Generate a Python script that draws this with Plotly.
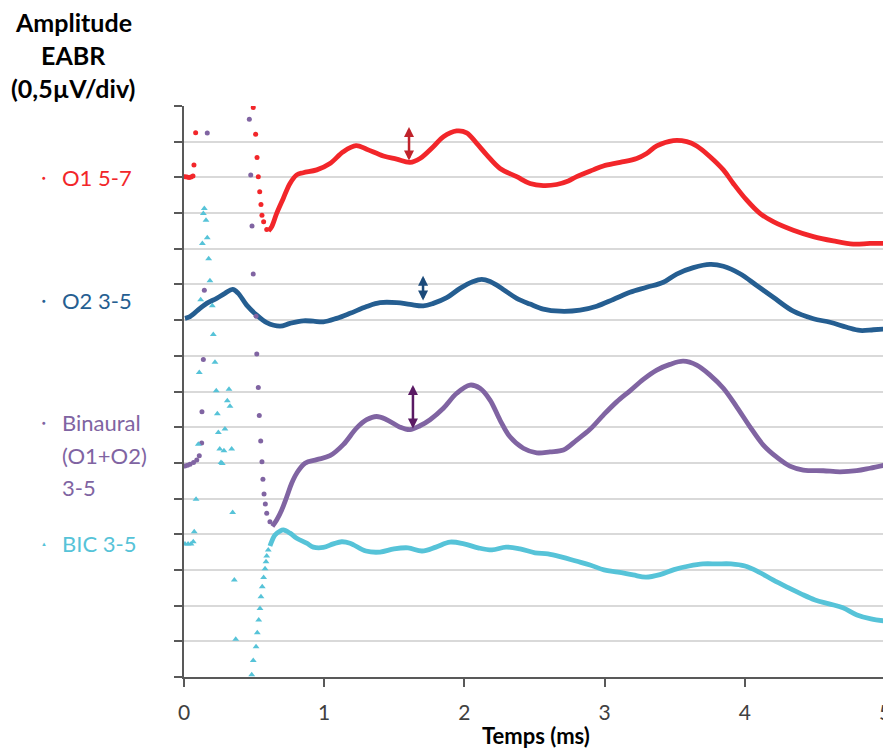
import plotly.graph_objects as go

# time in ms, amplitude in divisions (1 div = 0.5 uV)
o1_t = [0.603, 0.626, 0.661, 0.708, 0.756, 0.804, 0.851, 0.947, 1.041, 1.136, 1.227, 1.303,
        1.422, 1.517, 1.612, 1.683, 1.778, 1.850, 1.945, 2.016, 2.088, 2.159, 2.254, 2.373,
        2.468, 2.563, 2.658, 2.741, 2.801, 2.919, 2.991, 3.110, 3.229, 3.300, 3.372, 3.490,
        3.586, 3.657, 3.752, 3.847, 3.918, 4.014, 4.108, 4.203, 4.346, 4.489, 4.631, 4.774,
        4.893, 5.000]
o1_amp = [12.50, 12.62, 12.99, 13.41, 13.83, 14.07, 14.13, 14.21, 14.39, 14.72, 14.89, 14.79,
          14.60, 14.51, 14.42, 14.53, 14.86, 15.14, 15.30, 15.25, 14.95, 14.63, 14.25, 14.02,
          13.83, 13.77, 13.80, 13.90, 14.02, 14.21, 14.32, 14.42, 14.53, 14.67, 14.88, 15.03,
          15.00, 14.88, 14.58, 14.21, 13.83, 13.36, 12.99, 12.76, 12.52, 12.34, 12.22, 12.13,
          12.15, 12.15]
o1_art_t = [0.007, 0.021, 0.036, 0.050, 0.064, 0.071, 0.083,
            0.494, 0.511, 0.521, 0.530, 0.540, 0.549, 0.556, 0.568, 0.590]
o1_art_amp = [14.02, 14.01, 14.00, 14.01, 14.04, 14.35, 15.25,
              15.96, 15.21, 14.56, 14.02, 13.60, 13.24, 12.94, 12.76, 12.54]

o2_t = [0.007, 0.043, 0.114, 0.162, 0.233, 0.292, 0.347, 0.387, 0.447, 0.519, 0.590, 0.685,
        0.756, 0.851, 0.922, 0.994, 1.089, 1.184, 1.303, 1.398, 1.517, 1.612, 1.707, 1.778,
        1.874, 1.969, 2.063, 2.123, 2.183, 2.277, 2.373, 2.468, 2.563, 2.682, 2.825, 2.944,
        3.062, 3.181, 3.300, 3.419, 3.514, 3.633, 3.752, 3.847, 3.966, 4.085, 4.203, 4.346,
        4.489, 4.608, 4.727, 4.822, 4.917, 5.000]
o2_amp = [10.05, 10.10, 10.33, 10.47, 10.61, 10.75, 10.86, 10.75, 10.42, 10.14, 9.93, 9.83,
          9.91, 9.98, 9.97, 9.95, 10.05, 10.19, 10.38, 10.49, 10.49, 10.44, 10.40, 10.47,
          10.63, 10.89, 11.08, 11.14, 11.08, 10.86, 10.61, 10.45, 10.31, 10.25, 10.28, 10.39,
          10.58, 10.78, 10.92, 11.06, 11.29, 11.47, 11.56, 11.51, 11.30, 10.97, 10.64, 10.25,
          10.04, 9.94, 9.80, 9.71, 9.73, 9.75]

bin_t = [0.630, 0.661, 0.697, 0.733, 0.768, 0.804, 0.863, 0.947, 1.041, 1.136, 1.232, 1.303,
         1.374, 1.446, 1.541, 1.612, 1.683, 1.755, 1.850, 1.945, 2.040, 2.111, 2.183, 2.254,
         2.325, 2.420, 2.516, 2.611, 2.706, 2.801, 2.896, 2.991, 3.086, 3.181, 3.276, 3.372,
         3.466, 3.561, 3.657, 3.752, 3.847, 3.942, 4.037, 4.132, 4.228, 4.322, 4.417, 4.560,
         4.679, 4.798, 4.893, 5.000]
bin_amp = [4.22, 4.40, 4.68, 5.05, 5.43, 5.71, 5.99, 6.09, 6.20, 6.51, 6.98, 7.21,
           7.30, 7.21, 7.00, 6.93, 7.04, 7.21, 7.53, 7.95, 8.18, 8.09, 7.76, 7.20,
           6.73, 6.41, 6.28, 6.31, 6.36, 6.64, 6.94, 7.34, 7.71, 8.02, 8.34, 8.60,
           8.76, 8.85, 8.74, 8.46, 8.09, 7.57, 7.01, 6.50, 6.16, 5.91, 5.80, 5.78,
           5.75, 5.78, 5.85, 5.94]
bin_art_t = [0.007, 0.025, 0.043, 0.068, 0.091, 0.109, 0.126, 0.128, 0.138, 0.145, 0.166,
             0.466, 0.476, 0.485, 0.494, 0.514, 0.519, 0.530, 0.537, 0.547, 0.556, 0.563,
             0.571, 0.580, 0.590, 0.613]
bin_art_amp = [5.91, 5.93, 5.96, 6.01, 6.08, 6.20, 6.56, 7.43, 8.90, 10.84, 15.24,
               15.63, 14.07, 12.64, 11.29, 10.11, 9.05, 8.11, 7.33, 6.61, 6.03, 5.54,
               5.13, 4.85, 4.59, 4.35]

bic_t = [0.613, 0.630, 0.649, 0.685, 0.708, 0.756, 0.804, 0.875, 0.922, 0.994, 1.065, 1.125,
         1.184, 1.298, 1.398, 1.498, 1.598, 1.698, 1.797, 1.897, 1.997, 2.097, 2.197, 2.297,
         2.397, 2.504, 2.596, 2.696, 2.796, 2.896, 2.996, 3.096, 3.203, 3.295, 3.395, 3.495,
         3.602, 3.702, 3.802, 3.902, 4.001, 4.101, 4.201, 4.301, 4.401, 4.501, 4.601, 4.700,
         4.800, 4.900, 5.000]
bic_amp = [3.67, 3.84, 3.98, 4.09, 4.12, 4.03, 3.89, 3.75, 3.64, 3.63, 3.73, 3.79,
           3.75, 3.53, 3.50, 3.59, 3.62, 3.53, 3.64, 3.78, 3.73, 3.62, 3.56, 3.64,
           3.59, 3.48, 3.45, 3.36, 3.25, 3.14, 3.00, 2.94, 2.86, 2.80, 2.87, 3.01,
           3.11, 3.17, 3.17, 3.17, 3.11, 2.94, 2.72, 2.52, 2.33, 2.16, 2.05, 1.94,
           1.74, 1.63, 1.57]
bic_art_t = [0.007, 0.029, 0.050, 0.066, 0.073, 0.086, 0.102, 0.109, 0.119, 0.131, 0.138,
             0.145, 0.157, 0.166, 0.176, 0.185, 0.202, 0.209, 0.221, 0.230, 0.238, 0.245,
             0.255, 0.264, 0.273, 0.285, 0.292, 0.309, 0.321, 0.328, 0.340, 0.347, 0.359,
             0.369, 0.483, 0.494, 0.514, 0.523, 0.533, 0.542, 0.549, 0.558, 0.568, 0.578,
             0.585, 0.590, 0.601]
bic_art_amp = [3.73, 3.73, 3.73, 3.79, 4.07, 4.98, 6.52, 8.53, 10.57, 12.15, 12.99,
               13.13, 12.80, 12.31, 11.72, 11.10, 10.40, 9.60, 8.82, 8.02, 7.38, 6.85,
               6.39, 6.01, 5.98, 6.34, 6.95, 7.74, 8.06, 7.59, 6.39, 4.61, 2.72,
               1.06, 0.06, 0.46, 0.85, 1.24, 1.60, 1.92, 2.25, 2.53, 2.79, 3.03,
               3.23, 3.39, 3.56]

# latency markers (x, top, bottom)
arrows = [(1.605, 15.41, 14.43, '#c0232b'),
          (1.705, 11.24, 10.51, '#1b4a7a'),
          (1.633, 8.18, 6.92, '#5a1a64')]

RED = '#f2262a'
BLUE = '#255e91'
PURPLE = '#8064a2'
CYAN = '#56c3d8'
FONT = 'Lato'

fig = go.Figure()

series = [
    (o1_t, o1_amp, o1_art_t, o1_art_amp, RED, 'circle'),
    (o2_t, o2_amp, [], [], BLUE, 'circle'),
    (bin_t, bin_amp, bin_art_t, bin_art_amp, PURPLE, 'circle'),
    (bic_t, bic_amp, bic_art_t, bic_art_amp, CYAN, 'triangle-up'),
]
for t, a, at, aa, col, sym in series:
    fig.add_trace(go.Scatter(x=t, y=a, mode='lines', line=dict(color=col, width=4.8, shape='spline'),
                             showlegend=False, hoverinfo='skip'))
    if at:
        fig.add_trace(go.Scatter(x=at, y=aa, mode='markers',
                                 marker=dict(color=col, size=5 if sym == 'circle' else 6, symbol=sym),
                                 showlegend=False, hoverinfo='skip', cliponaxis=True))

for x, ytop, ybot, col in arrows:
    fig.add_annotation(x=x, y=ytop, ax=x, ay=ybot, xref='x', yref='y', axref='x', ayref='y',
                       text='', showarrow=True, arrowhead=2, startarrowhead=2, arrowside='end+start',
                       arrowsize=0.8, startarrowsize=0.8, arrowwidth=2.5, arrowcolor=col)

# left-hand labels
labels = [
    (14.0, 'O1 5-7', RED, '●'),
    (10.55, 'O2 3-5', BLUE, '●'),
    (7.14, 'Binaural', PURPLE, '●'),
    (6.22, '(O1+O2)', PURPLE, None),
    (5.32, '3-5', PURPLE, None),
    (3.75, 'BIC 3-5', CYAN, '▲'),
]
for y, txt, col, mk in labels:
    fig.add_annotation(x=-0.177, y=y, xref='paper', yref='y', text=txt, showarrow=False,
                       xanchor='left', yanchor='middle', font=dict(family=FONT, size=22, color=col))
    if mk:
        fig.add_annotation(x=-0.1997, y=y, xref='paper', yref='y', text=mk, showarrow=False,
                           xanchor='center', yanchor='middle', font=dict(family=FONT, size=6, color=col))

for y, txt in [(1.147, 'Amplitude'), (1.089, 'EABR'), (1.031, '(0,5µV/div)')]:
    fig.add_annotation(x=-0.1583, y=y, xref='paper', yref='paper', text='<b>' + txt + '</b>',
                       showarrow=False, xanchor='center', yanchor='middle',
                       font=dict(family=FONT, size=25, color='black'))

fig.add_annotation(x=0.502, y=-0.102, xref='paper', yref='paper', text='<b>Temps (ms)</b>',
                   showarrow=False, xanchor='center', yanchor='middle',
                   font=dict(family=FONT, size=22, color='black'))

fig.update_xaxes(range=[0, 5], dtick=1, showgrid=False, zeroline=False,
                 showline=True, linecolor='#595959', linewidth=1.5,
                 ticks='outside', ticklen=8, tickcolor='#595959', tickwidth=1.5,
                 ticklabelstandoff=8, ticklabeloverflow='allow', automargin=False,
                 tickfont=dict(family=FONT, size=21, color='#404040'))
fig.update_yaxes(range=[0, 16], dtick=1, showgrid=True, gridcolor='#d9d9d9', gridwidth=1.5,
                 zeroline=False, showline=True, linecolor='#595959', linewidth=1.5,
                 ticks='outside', ticklen=8, tickcolor='#595959', tickwidth=1.5,
                 showticklabels=False, automargin=False)

# page body adds an 8px margin, so the figure is a bit smaller than the window
fig.update_layout(width=883, height=741, margin=dict(l=176, r=6, t=98, b=72),
                  plot_bgcolor='white', paper_bgcolor='white', showlegend=False)

fig.write_html("out.html")
